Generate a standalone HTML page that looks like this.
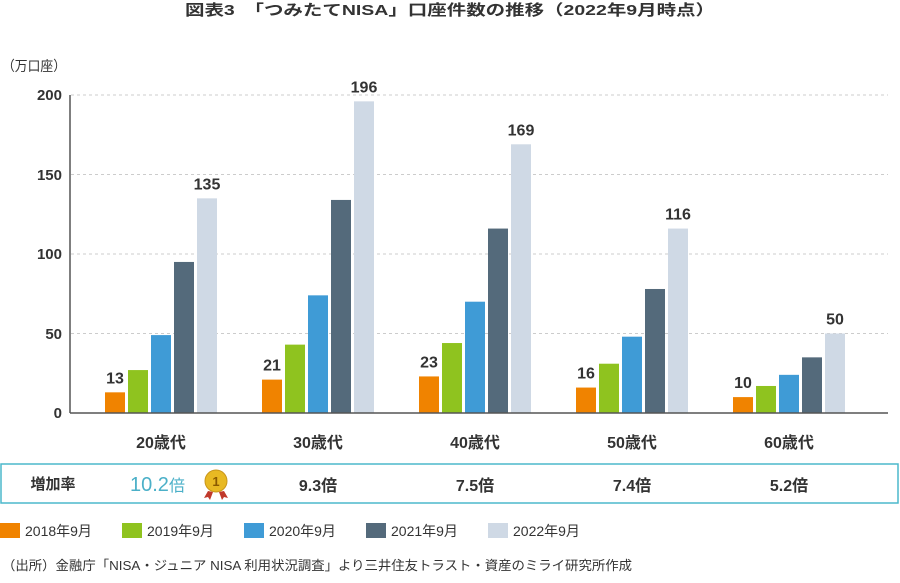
<!DOCTYPE html><html><head><meta charset="utf-8"><style>
body{margin:0;width:900px;height:578px;background:#fff;overflow:hidden;font-family:"Liberation Sans","Noto Sans CJK JP",sans-serif;color:#333}
</style></head><body>
<svg width="900" height="578" xmlns="http://www.w3.org/2000/svg" font-family="Liberation Sans, Noto Sans CJK JP, sans-serif">
<text x="185" y="15" textLength="530" lengthAdjust="spacingAndGlyphs" font-size="15" font-weight="bold" fill="#333">図表3　「つみたてNISA」口座件数の推移（2022年9月時点）</text>
<text x="2" y="71" font-size="14" fill="#333" textLength="64" lengthAdjust="spacingAndGlyphs">（万口座）</text>
<g stroke="#ccc" stroke-dasharray="3,3">
<line x1="71" y1="95" x2="888" y2="95"/><line x1="71" y1="174.5" x2="888" y2="174.5"/><line x1="71" y1="254" x2="888" y2="254"/><line x1="71" y1="333.5" x2="888" y2="333.5"/>
</g>
<g font-size="15" font-weight="bold" text-anchor="end" fill="#333">
<text x="62" y="100">200</text><text x="62" y="180">150</text><text x="62" y="259">100</text><text x="62" y="339">50</text><text x="62" y="418">0</text>
</g>
<g id="bars"></g>
<line x1="70" y1="95" x2="70" y2="413" stroke="#555" stroke-width="1.5"/>
<line x1="70" y1="413" x2="888" y2="413" stroke="#555" stroke-width="1.5"/>
<g font-size="16" text-anchor="middle" fill="#333" font-weight="600">
<text x="161" y="448">20歳代</text><text x="318" y="448">30歳代</text><text x="475" y="448">40歳代</text><text x="632" y="448">50歳代</text><text x="789" y="448">60歳代</text>
</g>
<rect x="1" y="464" width="897" height="39" fill="none" stroke="#4bb8cc" stroke-width="1.5"/>
<text x="53" y="489" font-size="15" font-weight="bold" text-anchor="middle" fill="#333">増加率</text>
<text x="130" y="491" font-size="20" fill="#4bb0c8">10.2<tspan font-size="16">倍</tspan></text>
<circle cx="216" cy="481" r="11" fill="#e8b923" stroke="#c9961a"/>
<text x="216" y="486" font-size="13" text-anchor="middle" fill="#8a5a00" font-weight="bold">1</text>
<path d="M208 491 l-4 7 4-1 2 3 3-8z M224 491 l4 7-4-1-2 3-3-8z" fill="#c0392b"/>
<g font-size="16" font-weight="bold" text-anchor="middle" fill="#333">
<text x="318" y="491">9.3倍</text><text x="475" y="491">7.5倍</text><text x="632" y="491">7.4倍</text><text x="789" y="491">5.2倍</text>
</g>
<g font-size="14" fill="#333">
<rect x="0" y="523" width="20" height="15" fill="#f08300"/><text x="25" y="536">2018年9月</text>
<rect x="122" y="523" width="20" height="15" fill="#8fc31f"/><text x="147" y="536">2019年9月</text>
<rect x="244" y="523" width="20" height="15" fill="#3f9bd6"/><text x="269" y="536">2020年9月</text>
<rect x="366" y="523" width="20" height="15" fill="#546a7b"/><text x="391" y="536">2021年9月</text>
<rect x="488" y="523" width="20" height="15" fill="#cfd9e5"/><text x="513" y="536">2022年9月</text>
</g>
<text x="2" y="570" font-size="13" fill="#333" textLength="630" lengthAdjust="spacingAndGlyphs">（出所）金融庁「NISA・ジュニア NISA 利用状況調査」より三井住友トラスト・資産のミライ研究所作成</text>
</svg>
<script>
var d=[[13,27,49,95,135],[21,43,74,134,196],[23,44,70,116,169],[16,31,48,78,116],[10,17,24,35,50]];
var c=["#f08300","#8fc31f","#3f9bd6","#546a7b","#cfd9e5"];
var g=document.getElementById("bars"),s="";
for(var i=0;i<5;i++)for(var j=0;j<5;j++){var x=105+157*i+23*j,h=d[i][j]*1.59,y=413-h;
s+='<rect x="'+x+'" y="'+y+'" width="20" height="'+h+'" fill="'+c[j]+'"/>';
if(j==0||j==4)s+='<text x="'+(x+10)+'" y="'+(y-9)+'" font-size="16" font-weight="600" text-anchor="middle" fill="#333">'+d[i][j]+'</text>';}
g.innerHTML=s;
</script>
</body></html>
